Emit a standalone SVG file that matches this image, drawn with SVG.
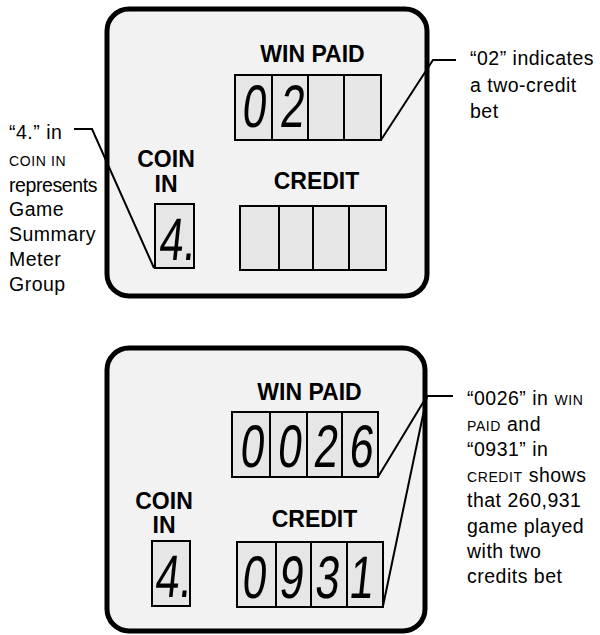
<svg xmlns="http://www.w3.org/2000/svg" width="600" height="635" viewBox="0 0 600 635">
<style>
.panel{fill:#f2f2f2;stroke:#000;stroke-width:5}
.cell{fill:#e6e6e6;stroke:#000;stroke-width:2}
.lbl{font-family:"Liberation Sans",Arial,sans-serif;font-weight:bold;font-size:23px;text-anchor:middle;fill:#000}
.dig{font-family:"Liberation Sans",Arial,sans-serif;font-size:60px;text-anchor:middle;fill:#000}
.ann{font-family:"Liberation Sans",Arial,sans-serif;font-size:19.5px;letter-spacing:0.5px;fill:#000}
.sc{font-size:14px;letter-spacing:0.6px}
.conn{fill:none;stroke:#000;stroke-width:2}
</style>
<rect width="600" height="635" fill="#fff"/>
<g id="panel-top">
<rect class="panel" x="107" y="9" width="320" height="287" rx="22"/>
<text class="lbl" x="312.5" y="62">WIN PAID</text>
<text class="lbl" x="166" y="167">COIN</text>
<text class="lbl" x="166" y="192">IN</text>
<text class="lbl" x="316.5" y="189">CREDIT</text>
<g id="top-winpaid">
<rect class="cell" x="235" y="75" width="37" height="65"/>
<rect class="cell" x="272" y="75" width="36" height="65"/>
<rect class="cell" x="308" y="75" width="36" height="65"/>
<rect class="cell" x="344" y="75" width="37" height="65"/>
<g transform="translate(253,127) skewX(-6) scale(0.72,1)"><text class="dig">0</text></g>
<g transform="translate(291,127) skewX(-6) scale(0.72,1)"><text class="dig">2</text></g>
</g>
<g id="top-coin">
<rect class="cell" x="155" y="204" width="39" height="64"/>
<g transform="translate(176,260) skewX(-6) scale(0.72,1)"><text class="dig">4.</text></g>
</g>
<g id="top-credit">
<rect class="cell" x="240" y="206" width="39" height="64"/>
<rect class="cell" x="279" y="206" width="34" height="64"/>
<rect class="cell" x="313" y="206" width="36" height="64"/>
<rect class="cell" x="349" y="206" width="37" height="64"/>
</g>
</g>
<g id="panel-bottom">
<rect class="panel" x="107" y="348" width="318" height="283" rx="22"/>
<text class="lbl" x="309.5" y="400">WIN PAID</text>
<text class="lbl" x="164" y="509">COIN</text>
<text class="lbl" x="164" y="533">IN</text>
<text class="lbl" x="314.5" y="527">CREDIT</text>
<g id="bottom-winpaid">
<rect class="cell" x="232" y="412" width="38" height="65"/>
<rect class="cell" x="270" y="412" width="37" height="65"/>
<rect class="cell" x="307" y="412" width="35" height="65"/>
<rect class="cell" x="342" y="412" width="36" height="65"/>
<g transform="translate(251,467) skewX(-6) scale(0.72,1)"><text class="dig">0</text></g>
<g transform="translate(288.5,467) skewX(-6) scale(0.72,1)"><text class="dig">0</text></g>
<g transform="translate(324.5,467) skewX(-6) scale(0.72,1)"><text class="dig">2</text></g>
<g transform="translate(360,467) skewX(-6) scale(0.72,1)"><text class="dig">6</text></g>
</g>
<g id="bottom-coin">
<rect class="cell" x="152" y="541" width="38" height="65"/>
<g transform="translate(172,597) skewX(-6) scale(0.72,1)"><text class="dig">4.</text></g>
</g>
<g id="bottom-credit">
<rect class="cell" x="237" y="542" width="39" height="65"/>
<rect class="cell" x="276" y="542" width="35" height="65"/>
<rect class="cell" x="311" y="542" width="36" height="65"/>
<rect class="cell" x="347" y="542" width="36" height="65"/>
<g transform="translate(253,598) skewX(-6) scale(0.72,1)"><text class="dig">0</text></g>
<g transform="translate(290,598) skewX(-6) scale(0.72,1)"><text class="dig">9</text></g>
<g transform="translate(326,598) skewX(-6) scale(0.72,1)"><text class="dig">3</text></g>
<g transform="translate(360,598) skewX(-6) scale(0.72,1)"><text class="dig">1</text></g>
</g>
</g>
<g id="connectors">
<polyline class="conn" points="74,129 92,129 154,268"/>
<polyline class="conn" points="456,60 433,60 381,140"/>
<polyline class="conn" points="453,396 427,396 378,477"/>
<line class="conn" x1="427" y1="396" x2="383" y2="606"/>
</g>
<g id="note-left">
<text class="ann" x="9" y="139">“4.” in</text>
<text class="ann" x="9" y="166"><tspan class="sc">COIN IN</tspan></text>
<text class="ann" x="9" y="192" style="letter-spacing:-0.4px">represents</text>
<text class="ann" x="9" y="216">Game</text>
<text class="ann" x="9" y="241">Summary</text>
<text class="ann" x="9" y="266">Meter</text>
<text class="ann" x="9" y="291">Group</text>
</g>
<g id="note-top-right">
<text class="ann" x="470" y="65">“02” indicates</text>
<text class="ann" x="470" y="92">a two-credit</text>
<text class="ann" x="470" y="118">bet</text>
</g>
<g id="note-bottom-right">
<text class="ann" x="467" y="405">“0026” in <tspan class="sc">WIN</tspan></text>
<text class="ann" x="467" y="431"><tspan class="sc">PAID</tspan> and</text>
<text class="ann" x="467" y="456">“0931” in</text>
<text class="ann" x="467" y="482"><tspan class="sc">CREDIT</tspan> shows</text>
<text class="ann" x="467" y="507">that 260,931</text>
<text class="ann" x="467" y="533">game played</text>
<text class="ann" x="467" y="558">with two</text>
<text class="ann" x="467" y="583">credits bet</text>
</g>
</svg>
